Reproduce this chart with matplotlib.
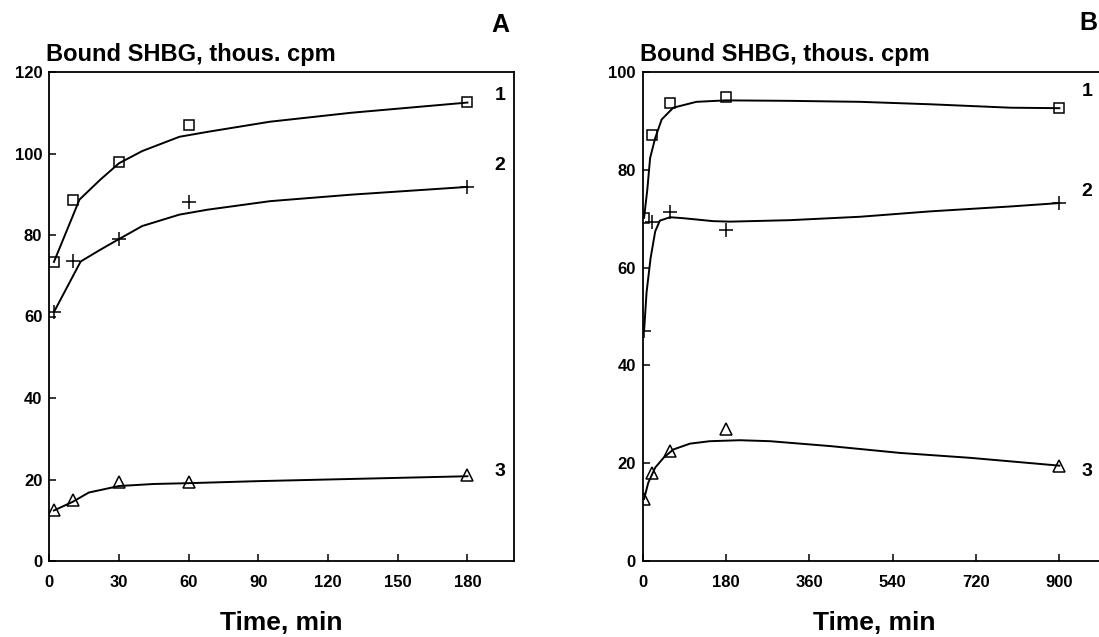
import matplotlib
matplotlib.use("Agg")
import matplotlib.pyplot as plt

# ---- data ----
# panel A: time 0-180 min
a_t = [2, 10, 30, 60, 180]
a_s1 = [73.4, 88.7, 98.0, 107.1, 112.7]   # curve 1, squares
a_s2 = [61.1, 73.6, 79.0, 88.0, 91.8]     # curve 2, crosses
a_s3 = [12.4, 15.0, 19.5, 19.3, 21.0]     # curve 3, triangles

# fitted curves of panel A (traced points)
a_c1_x = [2, 13, 22, 30, 40, 56, 68, 95, 130, 180]
a_c1_y = [73.4, 88.7, 93.6, 97.6, 100.6, 104.1, 105.3, 107.8, 110.0, 112.5]
a_c2_x = [2, 13.5, 22, 30, 40, 56, 68, 95, 130, 180]
a_c2_y = [61.1, 73.5, 76.4, 79.0, 82.2, 85.0, 86.2, 88.3, 89.9, 91.8]
a_c3_x = [2, 10, 17, 30, 45, 60, 90, 150, 180]
a_c3_y = [12.4, 14.5, 16.8, 18.4, 18.9, 19.1, 19.6, 20.4, 20.8]

# panel B: time 0-900 min
b_t = [3, 20, 60, 180, 900]
b_s1 = [70.2, 87.2, 93.7, 94.9, 92.6]
b_s2 = [47.1, 69.4, 71.3, 67.7, 73.2]
b_s3 = [12.7, 17.9, 22.5, 27.0, 19.5]

b_c1_x = [3, 10, 16, 27, 41, 66, 116, 180, 318, 470, 621, 794, 900]
b_c1_y = [70.2, 76.0, 82.4, 86.5, 90.3, 92.7, 93.9, 94.2, 94.1, 93.9, 93.4, 92.7, 92.6]
b_c2_x = [3, 8.4, 17, 27, 37, 59, 88, 152, 189, 318, 470, 621, 794, 900]
b_c2_y = [47.1, 55.0, 61.9, 67.4, 69.6, 70.3, 70.1, 69.5, 69.4, 69.7, 70.4, 71.5, 72.5, 73.2]
b_c3_x = [3, 12, 27, 45, 66, 102, 145, 210, 275, 405, 556, 707, 900]
b_c3_y = [12.7, 16.0, 19.1, 21.1, 22.8, 24.0, 24.5, 24.7, 24.5, 23.5, 22.1, 21.1, 19.5]

a_xticks = [0, 30, 60, 90, 120, 150, 180]
a_yticks = [0, 20, 40, 60, 80, 100, 120]
b_xticks = [0, 180, 360, 540, 720, 900]
b_yticks = [0, 20, 40, 60, 80, 100]

W, H = 1099, 637
plt.rcParams["font.family"] = ["Liberation Sans", "DejaVu Sans"]
fig = plt.figure(figsize=(W / 100, H / 100), dpi=100)

LW = 1.3


def px(x, y):
    return x / W, 1 - y / H


def panel(rect, curves, points, xlim, ylim, xticks, yticks):
    ax = fig.add_axes(rect)
    for cx, cy in curves:
        ax.plot(cx, cy, color="black", lw=1.4, zorder=2)
    t, s1, s2, s3 = points
    ax.plot(t, s1, ls="", marker="s", ms=7.5, mfc="none", mec="black", mew=1.1, zorder=3)
    ax.plot(t, s2, ls="", marker="+", ms=10, mec="black", mew=1.1, zorder=3)
    ax.plot(t, s3, ls="", marker="^", ms=8.5, mfc="none", mec="black", mew=1.1, zorder=3)
    ax.set_xlim(*xlim)
    ax.set_ylim(*ylim)
    ax.set_xticks(xticks)
    ax.set_yticks(yticks)
    ax.tick_params(direction="in", length=5, width=1.1, labelsize=12)
    ax.tick_params(axis="x", pad=10)
    ax.tick_params(axis="y", pad=5)
    for lab in ax.get_xticklabels() + ax.get_yticklabels():
        lab.set_fontweight("bold")
    for sp in ax.spines.values():
        sp.set_linewidth(LW)
    return ax


ax_a = panel([49.3 / W, 76 / H, 464.6 / W, 489 / H],
             [(a_c1_x, a_c1_y), (a_c2_x, a_c2_y), (a_c3_x, a_c3_y)],
             (a_t, a_s1, a_s2, a_s3), (0, 200), (0, 120), a_xticks, a_yticks)
ax_b = panel([642.7 / W, 76 / H, 463 / W, 489 / H],
             [(b_c1_x, b_c1_y), (b_c2_x, b_c2_y), (b_c3_x, b_c3_y)],
             (b_t, b_s1, b_s2, b_s3), (0, 1000), (0, 100), b_xticks, b_yticks)
ax_b.spines["right"].set_visible(False)

# titles / axis labels
for x0 in (46, 640):
    fig.text(*px(x0, 61.5), "Bound SHBG, thous. cpm", fontsize=17, fontweight="bold",
             va="baseline", ha="left")
for xc in (281.6, 874):
    fig.text(*px(xc, 623), "Time, min", fontsize=19, fontweight="bold",
             va="center", ha="center")

# panel letters and curve numbers
fig.text(*px(500, 25), "A", fontsize=18, fontweight="bold", ha="center", va="center")
fig.text(*px(1088, 23), "B", fontsize=18, fontweight="bold", ha="center", va="center")
for (x, y), s in zip([(500, 95), (500, 165), (500, 472)], "123"):
    fig.text(*px(x, y), s, fontsize=14, fontweight="bold", ha="center", va="center")
for (x, y), s in zip([(1087, 92), (1087, 192), (1087, 471)], "123"):
    fig.text(*px(x, y), s, fontsize=14, fontweight="bold", ha="center", va="center")

fig.savefig("out.png", dpi=100)
